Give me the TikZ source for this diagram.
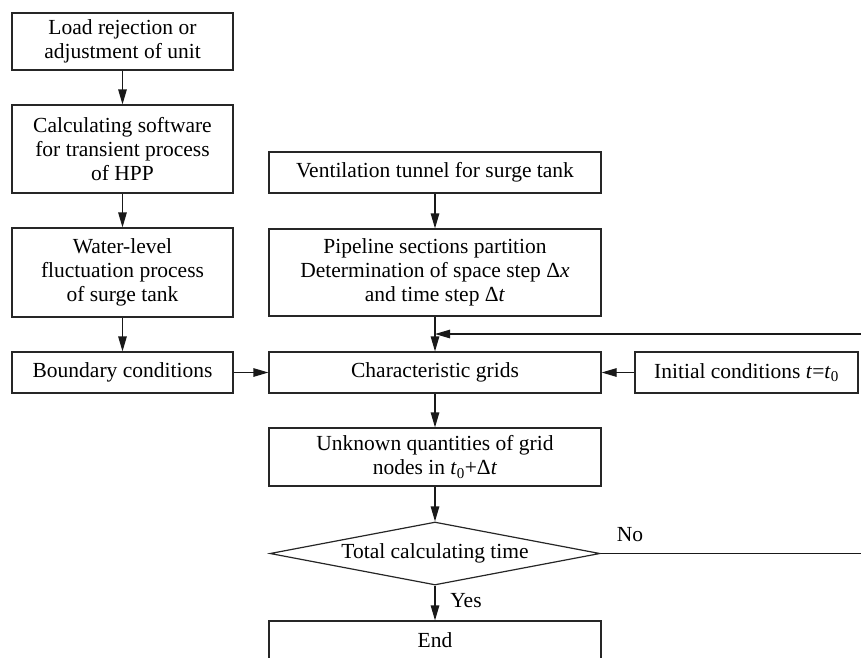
\documentclass[tikz,border=0pt]{standalone}
\usepackage{fontspec}
\setmainfont{Liberation Serif}
\usetikzlibrary{arrows.meta,shapes.geometric}
\begin{document}
\begin{tikzpicture}[x=1pt,y=-1pt,
  box/.style={draw=black!85,line width=1.2pt,rectangle,inner sep=0pt,align=center,font=\fontsize{21.5}{24}\selectfont},
  conn/.style={draw=black!90,line width=1.2pt,-{Triangle[length=15pt,width=8.5pt]}},
  plain/.style={draw=black!90,line width=1.2pt},
  lbl/.style={font=\fontsize{21.5}{24}\selectfont,inner sep=0pt}]
\useasboundingbox (0,0) rectangle (861,657);
% left column
\node[box,minimum width=221pt,minimum height=57pt] (load) at (122.5,41.5) {Load rejection or\\adjustment of unit};
\node[box,minimum width=221pt,minimum height=88pt] (soft) at (122.5,149) {Calculating software\\for transient process\\of HPP};
\node[box,minimum width=221pt,minimum height=89pt] (water) at (122.5,272.5) {Water-level\\fluctuation process\\of surge tank};
\node[box,minimum width=221pt,minimum height=41pt] (bound) at (122.5,372.5) {Boundary conditions};
% middle column
\node[box,minimum width=332pt,minimum height=41pt] (vent) at (435,172.5) {Ventilation tunnel for surge tank};
\node[box,minimum width=332pt,minimum height=87pt] (pipe) at (435,272.5) {Pipeline sections partition\\Determination of space step Δ\textit{x}\\and time step Δ\textit{t}};
\node[box,minimum width=332pt,minimum height=41pt] (grid) at (435,372.5) {Characteristic grids};
\node[box,minimum width=223pt,minimum height=41pt] (init) at (746.5,372.5) {Initial conditions \textit{t}=\textit{t}\textsubscript{0}};
\node[box,minimum width=332pt,minimum height=58pt] (unk) at (435,457) {Unknown quantities of grid\\nodes in \textit{t}\textsubscript{0}+Δ\textit{t}};
\node[box,diamond,aspect=6,minimum width=330pt,minimum height=63pt] (dec) at (435,553.5) {Total calculating time};
\node[box,minimum width=332pt,minimum height=38pt] (end) at (435,640) {End};
% labels
\node[lbl] (yes) at (466,601) {Yes};
\node[lbl] (no) at (630,535) {No};
% coordinates
\coordinate (fbR) at (861,334);
\coordinate (fbJ) at (435,334);
\coordinate (noR) at (861,553.5);
% connectors
\draw[conn] (load) -- (soft);
\draw[conn] (soft) -- (water);
\draw[conn] (water) -- (bound);
\draw[conn] (bound) -- (grid);
\draw[conn] (vent) -- (pipe);
\draw[conn] (pipe) -- (grid);
\draw[conn] (fbR) -- (fbJ);
\draw[conn] (init) -- (grid);
\draw[conn] (grid) -- (unk);
\draw[conn] (unk) -- (dec);
\draw[conn] (dec) -- (end);
\draw[plain] (dec.east) -- (noR);
\end{tikzpicture}
\end{document}
